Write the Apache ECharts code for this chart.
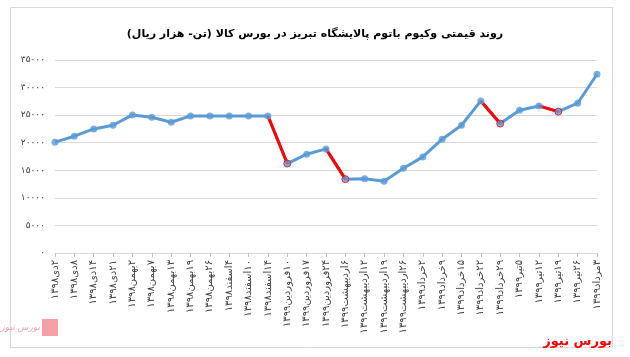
<!DOCTYPE html>
<html>
<head>
<meta charset="utf-8">
<script src="https://cdn.jsdelivr.net/npm/echarts@6/dist/echarts.min.js"></script>
<style>
html,body{margin:0;padding:0;background:#fff;}
#c{width:630px;height:357px;}
</style>
</head>
<body>
<div id="c"></div>
<script>
const titleText = 'روند قیمتی وکیوم باتوم پالایشگاه تبریز در بورس کالا (تن- هزار ریال)';
const categories = [
  '۲دی۱۳۹۸','۸دی۱۳۹۸','۱۴دی۱۳۹۸','۲۱دی۱۳۹۸','۲بهمن۱۳۹۸','۷بهمن۱۳۹۸','۱۳بهمن۱۳۹۸','۱۹بهمن۱۳۹۸','۲۶بهمن۱۳۹۸',
  '۴اسفند۱۳۹۸','۱۰اسفند۱۳۹۸','۱۴اسفند۱۳۹۸','۱۰فروردین۱۳۹۹','۱۷فروردین۱۳۹۹','۲۴فروردین۱۳۹۹',
  '۶اردیبهشت۱۳۹۹','۱۲اردیبهشت۱۳۹۹','۱۹اردیبهشت۱۳۹۹','۲۶اردیبهشت۱۳۹۹',
  '۲خرداد۱۳۹۹','۹خرداد۱۳۹۹','۱۵خرداد۱۳۹۹','۲۲خرداد۱۳۹۹','۲۹خرداد۱۳۹۹',
  '۵تیر۱۳۹۹','۱۲تیر۱۳۹۹','۱۹تیر۱۳۹۹','۲۶تیر۱۳۹۹','۳مرداد۱۳۹۹'
];
const prices = [
  20100, 21180, 22500, 23170, 25040, 24620, 23720, 24860, 24860,
  24860, 24860, 24860, 16220, 17920, 18880,
  13390, 13450, 13030, 15380,
  17430, 20640, 23170, 27580, 23470,
  25890, 26670, 25640, 27160, 32410
];
// indices of points that end a highlighted (red) drop segment
const redEnds = [12, 15, 23, 26];
const yTickValues = [0, 5000, 10000, 15000, 20000, 25000, 30000, 35000];
const yTickLabels = ['۰', '۵۰۰۰', '۱۰۰۰۰', '۱۵۰۰۰', '۲۰۰۰۰', '۲۵۰۰۰', '۳۰۰۰۰', '۳۵۰۰۰'];
const brandText = 'بورس نیوز';

const rtl = s => '\u202B' + s + '\u202C';

const redData = prices.map((v, i) => (redEnds.includes(i) || redEnds.includes(i + 1)) ? v : null);
const markerData = prices.map((v, i) => redEnds.includes(i)
  ? { value: v, itemStyle: { color: '#5B9BD5', borderColor: '#FF0000', borderWidth: 1 } }
  : v);

const chart = echarts.init(document.getElementById('c'), null, { renderer: 'canvas' });
chart.setOption({
  animation: false,
  backgroundColor: '#fff',
  title: {
    text: rtl(titleText),
    left: 'center',
    top: 24,
    textStyle: { fontSize: 11, fontWeight: 'bold', color: '#000', fontFamily: 'DejaVu Sans' }
  },
  grid: { left: 55, right: 33, top: 60, bottom: 104, containLabel: false },
  xAxis: {
    type: 'category',
    data: categories,
    boundaryGap: false,
    axisLine: { show: true, lineStyle: { color: '#d9d9d9', width: 1 } },
    axisTick: { show: true, length: 4, lineStyle: { color: '#bfbfbf' } },
    axisLabel: {
      interval: 0, rotate: 90, margin: 7,
      fontSize: 10, color: '#404040', fontFamily: 'DejaVu Sans',
      formatter: v => rtl(v)
    }
  },
  yAxis: {
    type: 'value',
    min: 0, max: 35000, interval: 5000,
    axisLine: { show: false },
    axisTick: { show: false },
    splitLine: { lineStyle: { color: '#d9d9d9', width: 1 } },
    axisLabel: {
      margin: 10, fontSize: 9, color: '#404040', fontFamily: 'DejaVu Sans',
      formatter: v => yTickLabels[yTickValues.indexOf(v)]
    }
  },
  series: [
    {
      type: 'line', data: prices, z: 2,
      showSymbol: false, symbol: 'none',
      lineStyle: { color: '#5B9BD5', width: 3 }
    },
    {
      type: 'line', data: redData, z: 3, connectNulls: false,
      showSymbol: false, symbol: 'none',
      lineStyle: { color: '#FF0000', width: 3 }
    },
    {
      type: 'scatter', data: markerData, z: 4,
      symbol: 'circle', symbolSize: 7,
      itemStyle: { color: '#5B9BD5' }
    }
  ],
  graphic: [
    { type: 'rect', shape: { x: 10.5, y: 7.5, width: 602, height: 340 },
      style: { fill: 'none', stroke: '#d9d9d9', lineWidth: 1 }, silent: true },
    { type: 'rect', shape: { x: 42, y: 319, width: 16, height: 17 },
      style: { fill: '#f08a8f', opacity: 0.8 }, silent: true },
    { type: 'text', x: 40, y: 328,
      style: { text: rtl(brandText), font: 'italic 9px "DejaVu Sans"', fill: '#f08a8f', opacity: 0.8,
        textAlign: 'right', textVerticalAlign: 'middle' }, silent: true },
    { type: 'text', x: 612, y: 342,
      style: { text: rtl(brandText), font: 'bold 13px "DejaVu Sans"', fill: '#ff0000',
        textAlign: 'right', textVerticalAlign: 'middle' }, silent: true }
  ]
});
</script>
</body>
</html>
